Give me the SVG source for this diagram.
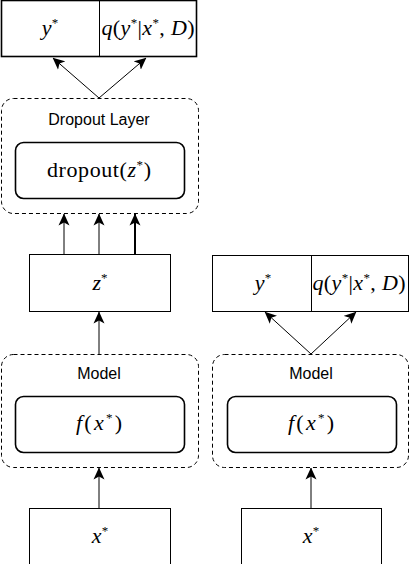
<svg xmlns="http://www.w3.org/2000/svg" width="410" height="564" viewBox="0 0 410 564">
<style>
.box{fill:#fff;stroke:#000;stroke-width:1}
.thick{stroke-width:1.6}
.group{fill:none;stroke:#000;stroke-width:1;stroke-dasharray:4 3}
.inner{fill:#fff;stroke:#000;stroke-width:1.6}
.lbl{font-family:"Liberation Sans",Arial,sans-serif;font-size:16px;text-anchor:middle;fill:#000}
.math{font-family:"Liberation Serif","Times New Roman",serif;font-size:22px;text-anchor:middle;fill:#000}
.it{font-style:italic}
.sup{font-size:13px}
.conn{fill:none;stroke:#000;stroke-width:1}
</style>
<defs>
<marker id="arr" markerUnits="userSpaceOnUse" markerWidth="12" markerHeight="12" viewBox="0 0 12 12" refX="11.5" refY="6" orient="auto">
<path d="M0,0.5 L12,6 L0,11.5 L3,6 Z" fill="#000"/>
</marker>
</defs>

<g id="connectors">
<path class="conn" d="M99,98 L53,58" marker-end="url(#arr)"/>
<path class="conn" d="M99,98 L146,58" marker-end="url(#arr)"/>
<path class="conn" d="M64,254 L64,214" marker-end="url(#arr)"/>
<path class="conn" d="M99,254 L99,214" marker-end="url(#arr)"/>
<path class="conn" d="M135,254 L135,214" style="stroke-width:2" marker-end="url(#arr)"/>
<path class="conn" d="M99,354 L99,312" marker-end="url(#arr)"/>
<path class="conn" d="M99,508 L99,468" marker-end="url(#arr)"/>
<path class="conn" d="M311,354 L265,312" marker-end="url(#arr)"/>
<path class="conn" d="M311,354 L356,312" marker-end="url(#arr)"/>
<path class="conn" d="M311,508 L311,468" marker-end="url(#arr)"/>
</g>

<g id="output-left">
<rect class="box thick" x="1.5" y="0.5" width="195" height="56"/>
<line x1="99.5" y1="0.5" x2="99.5" y2="56.5" stroke="#000" stroke-width="1"/>
<text class="math" x="50" y="35"><tspan class="it">y</tspan><tspan class="sup" dy="-8">*</tspan></text>
<text class="math" x="148" y="35" textLength="93" lengthAdjust="spacing"><tspan class="it">q</tspan>(<tspan class="it">y</tspan><tspan class="sup" dy="-8">*</tspan><tspan dy="8">|</tspan><tspan class="it">x</tspan><tspan class="sup" dy="-8">*</tspan><tspan dy="8">, </tspan><tspan class="it">D</tspan>)</text>
</g>

<g id="dropout-layer">
<rect class="group" x="1.5" y="98.5" width="197" height="115" rx="12"/>
<text class="lbl" x="99" y="125">Dropout Layer</text>
</g>

<g id="dropout">
<rect class="inner" x="15.5" y="142.5" width="169" height="56" rx="8"/>
<text class="math" x="99" y="177" textLength="104" lengthAdjust="spacing">dropout(<tspan class="it">z</tspan><tspan class="sup" dy="-8">*</tspan><tspan dy="8">)</tspan></text>
</g>

<g id="z">
<rect class="box" x="29.5" y="254.5" width="141" height="57"/>
<text class="math" x="100" y="290"><tspan class="it">z</tspan><tspan class="sup" dy="-8">*</tspan></text>
</g>

<g id="model-left">
<rect class="group" x="1.5" y="354.5" width="197" height="113" rx="12"/>
<text class="lbl" x="99" y="379">Model</text>
</g>

<g id="f-left">
<rect class="inner" x="15.5" y="396.5" width="169" height="56" rx="8"/>
<text class="math" x="99" y="430" textLength="46" lengthAdjust="spacing"><tspan class="it">f</tspan>(<tspan class="it">x</tspan><tspan class="sup" dy="-8">*</tspan><tspan dy="8">)</tspan></text>
</g>

<g id="x-left">
<rect class="box" x="29.5" y="508.5" width="141" height="60"/>
<text class="math" x="100" y="543"><tspan class="it">x</tspan><tspan class="sup" dy="-8">*</tspan></text>
</g>

<g id="output-right">
<rect class="box" x="212.5" y="255.5" width="196" height="56"/>
<line x1="311.5" y1="255.5" x2="311.5" y2="311.5" stroke="#000" stroke-width="1"/>
<text class="math" x="263" y="290"><tspan class="it">y</tspan><tspan class="sup" dy="-8">*</tspan></text>
<text class="math" x="359" y="290" textLength="93" lengthAdjust="spacing"><tspan class="it">q</tspan>(<tspan class="it">y</tspan><tspan class="sup" dy="-8">*</tspan><tspan dy="8">|</tspan><tspan class="it">x</tspan><tspan class="sup" dy="-8">*</tspan><tspan dy="8">, </tspan><tspan class="it">D</tspan>)</text>
</g>

<g id="model-right">
<rect class="group" x="212.5" y="354.5" width="196" height="113" rx="12"/>
<text class="lbl" x="311" y="379">Model</text>
</g>

<g id="f-right">
<rect class="inner" x="227.5" y="396.5" width="169" height="56" rx="8"/>
<text class="math" x="311" y="430" textLength="46" lengthAdjust="spacing"><tspan class="it">f</tspan>(<tspan class="it">x</tspan><tspan class="sup" dy="-8">*</tspan><tspan dy="8">)</tspan></text>
</g>

<g id="x-right">
<rect class="box" x="241.5" y="508.5" width="140" height="60"/>
<text class="math" x="311" y="543"><tspan class="it">x</tspan><tspan class="sup" dy="-8">*</tspan></text>
</g>
</svg>
